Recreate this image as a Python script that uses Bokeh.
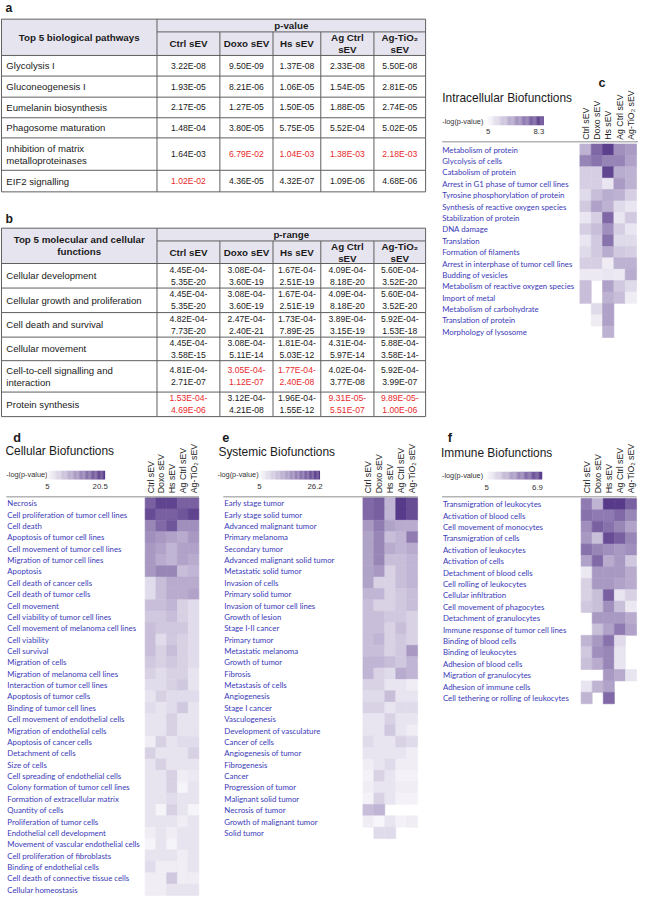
import numpy as np
from bokeh.plotting import figure
from bokeh.models import Range1d, ColumnDataSource, LinearColorMapper
from bokeh.layouts import column, row
from bokeh.embed import file_html
from bokeh.resources import INLINE
from bokeh.core.properties import value

# ======================= DATA =======================
NA = None

sample_headers = [["Ctrl sEV"], ["Doxo sEV"], ["Hs sEV"], ["Ag Ctrl", "sEV"], ["Ag-TiO\u2082", "sEV"]]
sample_names = ["Ctrl sEV", "Doxo sEV", "Hs sEV", "Ag Ctrl sEV", "Ag-TiO\u2082 sEV"]

# ---- table a ----
a_title = ["Top 5 biological pathways"]
a_group = "p-value"
a_pathways = [["Glycolysis I"], ["Gluconeogenesis I"], ["Eumelanin biosynthesis"],
              ["Phagosome maturation"], ["Inhibition of matrix", "metalloproteinases"],
              ["EIF2 signalling"]]
a_pvalues = [
    ["3.22E-08", "9.50E-09", "1.37E-08", "2.33E-08", "5.50E-08"],
    ["1.93E-05", "8.21E-06", "1.06E-05", "1.54E-05", "2.81E-05"],
    ["2.17E-05", "1.27E-05", "1.50E-05", "1.88E-05", "2.74E-05"],
    ["1.48E-04", "3.80E-05", "5.75E-05", "5.52E-04", "5.02E-05"],
    ["1.64E-03", "6.79E-02", "1.04E-03", "1.38E-03", "2.18E-03"],
    ["1.02E-02", "4.36E-05", "4.32E-07", "1.09E-06", "4.68E-06"],
]
a_red = [[0, 0, 0, 0, 0], [0, 0, 0, 0, 0], [0, 0, 0, 0, 0], [0, 0, 0, 0, 0],
         [0, 1, 1, 1, 1], [1, 0, 0, 0, 0]]

# ---- table b ----
b_title = ["Top 5 molecular and cellular", "functions"]
b_group = "p-range"
b_functions = [["Cellular development"], ["Cellular growth and proliferation"],
               ["Cell death and survival"], ["Cellular movement"],
               ["Cell-to-cell signalling and", "interaction"], ["Protein synthesis"]]
b_p_high = [
    ["4.45E-04", "3.08E-04", "1.67E-04", "4.09E-04", "5.60E-04"],
    ["4.45E-04", "3.08E-04", "1.67E-04", "4.09E-04", "5.60E-04"],
    ["4.82E-04", "2.47E-04", "1.73E-04", "3.89E-04", "5.92E-04"],
    ["4.45E-04", "3.08E-04", "1.81E-04", "4.31E-04", "5.88E-04"],
    ["4.81E-04", "3.05E-04", "1.77E-04", "4.02E-04", "5.92E-04"],
    ["1.53E-04", "3.12E-04", "1.96E-04", "9.31E-05", "9.89E-05"],
]
b_p_low = [
    ["5.35E-20", "3.60E-19", "2.51E-19", "8.18E-20", "3.52E-20"],
    ["5.35E-20", "3.60E-19", "2.51E-19", "8.18E-20", "3.52E-20"],
    ["7.73E-20", "2.40E-21", "7.89E-25", "3.15E-19", "1.53E-18"],
    ["3.58E-15", "5.11E-14", "5.03E-12", "5.97E-14", "3.58E-14-"],
    ["2.71E-07", "1.12E-07", "2.40E-08", "3.77E-08", "3.99E-07"],
    ["4.69E-06", "4.21E-08", "1.55E-12", "5.51E-07", "1.00E-06"],
]
b_red = [[0, 0, 0, 0, 0], [0, 0, 0, 0, 0], [0, 0, 0, 0, 0], [0, 0, 0, 0, 0],
         [0, 1, 1, 0, 0], [1, 0, 0, 1, 1]]

# ---- panel c: intracellular biofunctions, -log(p-value) ----
c_min, c_max = 5, 8.3
c_functions = ["Metabolism of protein", "Glycolysis of cells", "Catabolism of protein",
               "Arrest in G1 phase of tumor cell lines", "Tyrosine phosphorylation of protein",
               "Synthesis of reactive oxygen species", "Stabilization of protein", "DNA damage",
               "Translation", "Formation of filaments", "Arrest in interphase of tumor cell lines",
               "Budding of vesicles", "Metabolism of reactive oxygen species", "Import of metal",
               "Metabolism of carbohydrate", "Translation of protein", "Morphology of lysosome"]
c_values = [
    [6.2, 7.5, 8.2, 6.8, 6.6],
    [7.0, 7.3, 7.0, 7.0, 6.5],
    [5.7, 5.7, 8.1, 6.3, 6.2],
    [5.7, 5.7, 5.3, 6.6, 6.2],
    [5.5, 6.0, 6.3, 6.2, 5.7],
    [5.8, 6.5, 6.2, 5.5, 5.3],
    [5.3, 5.7, 7.5, 5.3, 5.8],
    [5.7, 6.0, 6.8, 5.7, 5.3],
    [5.3, 5.8, 7.3, 5.5, 5.5],
    [5.5, 5.8, 6.3, 5.8, 5.7],
    [5.7, 5.7, 5.2, 6.2, 6.2],
    [5.25, 5.25, 5.3, 5.25, 6.3],
    [6.0, NA, 6.5, 5.8, 5.5],
    [6.0, NA, 6.2, 6.0, 5.2],
    [NA, 5.5, 6.5, NA, NA],
    [NA, 5.2, 6.5, NA, NA],
    [NA, NA, 6.2, NA, NA],
]

# ---- panel d: cellular biofunctions ----
d_min, d_max = 5, 20.5
d_functions = ["Necrosis", "Cell proliferation of tumor cell lines", "Cell death",
               "Apoptosis of tumor cell lines", "Cell movement of tumor cell lines",
               "Migration of tumor cell lines", "Apoptosis", "Cell death of cancer cells",
               "Cell death of tumor cells", "Cell movement", "Cell viability of tumor cell lines",
               "Cell movement of melanoma cell lines", "Cell viability", "Cell survival",
               "Migration of cells", "Migration of melanoma cell lines",
               "Interaction of tumor cell lines", "Apoptosis of tumor cells",
               "Binding of tumor cell lines", "Cell movement of endothelial cells",
               "Migration of endothelial cells", "Apoptosis of cancer cells",
               "Detachment of cells", "Size of cells", "Cell spreading of endothelial cells",
               "Colony formation of tumor cell lines", "Formation of extracellular matrix",
               "Quantity of cells", "Proliferation of tumor cells",
               "Endothelial cell development", "Movement of vascular endothelial cells",
               "Cell proliferation of fibroblasts", "Binding of endothelial cells",
               "Cell death of connective tissue cells", "Cellular homeostasis"]
d_values = [
    [17.4, 19.7, 19.7, 17.4, 17.4],
    [19.0, 17.4, 17.4, 18.2, 19.7],
    [14.3, 16.6, 18.2, 13.5, 13.5],
    [13.5, 12.8, 12.0, 11.2, 12.8],
    [12.8, 12.0, 10.4, 12.0, 12.0],
    [12.8, 11.2, 10.4, 12.0, 11.2],
    [12.8, 14.3, 14.3, 9.7, 10.4],
    [7.3, 9.7, 11.2, 11.2, 11.2],
    [7.3, 9.7, 11.2, 11.2, 12.0],
    [9.7, 9.7, 10.4, 8.1, 7.3],
    [8.9, 8.9, 9.7, 8.1, 7.3],
    [9.7, 8.9, 8.9, 8.9, 7.3],
    [9.7, 7.3, 8.9, 8.1, 7.3],
    [9.7, 8.1, 9.7, 8.1, 7.3],
    [8.9, 8.1, 8.9, 8.1, 7.3],
    [8.1, 7.3, 8.1, 8.1, 6.6],
    [7.3, 7.3, 8.1, 8.9, 6.6],
    [6.6, 8.1, 7.3, 7.3, 7.3],
    [7.3, 6.6, 7.3, 8.9, 6.6],
    [6.6, 6.6, 8.1, 6.6, 6.6],
    [6.6, 6.6, 8.1, 6.6, 6.6],
    [5.8, 8.1, 6.6, 7.3, 7.3],
    [8.1, 6.6, 6.6, 6.6, 8.1],
    [6.6, 8.1, 6.6, 6.6, 6.6],
    [6.6, 6.6, 8.1, 5.8, 6.2],
    [6.6, 6.6, 8.1, 5.3, 6.6],
    [6.6, 6.6, 7.3, 6.6, 6.6],
    [6.6, 5.3, 8.1, 6.6, 5.3],
    [6.6, 6.6, 6.6, 5.8, 6.6],
    [5.8, 6.6, 5.8, 6.6, 6.6],
    [5.3, 6.6, 5.3, 6.6, 6.6],
    [6.6, 6.6, 6.6, 5.8, 6.6],
    [7.3, 5.8, 5.8, 5.8, 6.6],
    [5.8, 5.8, 8.9, 5.8, 5.8],
    [5.8, 5.8, 6.6, 6.6, 6.6],
]

# ---- panel e: systemic biofunctions ----
e_min, e_max = 5, 26.2
e_functions = ["Early stage tumor", "Early stage solid tumor", "Advanced malignant tumor",
               "Primary melanoma", "Secondary tumor", "Advanced malignant solid tumor",
               "Metastatic solid tumor", "Invasion of cells", "Primary solid tumor",
               "Invasion of tumor cell lines", "Growth of lesion", "Stage I-II cancer",
               "Primary tumor", "Metastatic melanoma", "Growth of tumor", "Fibrosis",
               "Metastasis of cells", "Angiogenesis", "Stage I cancer", "Vasculogenesis",
               "Development of vasculature", "Cancer of cells", "Angiogenesis of tumor",
               "Fibrogenesis", "Cancer", "Progression of tumor", "Malignant solid tumor",
               "Necrosis of tumor", "Growth of malignant tumor", "Solid tumor"]
e_values = [
    [20.9, 22.0, 12.4, 26.2, 24.1],
    [20.9, 22.0, 12.4, 26.2, 24.1],
    [15.6, 18.8, 14.5, 13.5, 13.5],
    [14.5, 17.7, 11.4, 12.4, 18.8],
    [14.5, 17.7, 13.5, 12.4, 13.5],
    [14.5, 17.7, 11.4, 11.4, 12.4],
    [14.5, 15.6, 9.2, 11.4, 12.4],
    [14.5, 9.2, 9.2, 11.4, 12.4],
    [12.4, 12.4, 9.2, 10.3, 11.4],
    [11.4, 9.2, 9.2, 10.3, 11.4],
    [11.4, 11.4, 10.3, 10.3, 9.2],
    [11.4, 11.4, 9.2, 11.4, 9.2],
    [11.4, 12.4, 9.2, 10.3, 9.2],
    [11.4, 11.4, 9.2, 10.3, 15.6],
    [12.4, 12.4, 11.4, 10.3, 12.4],
    [12.4, 9.2, 8.2, 13.5, 12.4],
    [9.2, 9.2, 7.1, 7.1, 6.1],
    [8.2, 8.2, 11.4, 7.1, 7.1],
    [9.2, 9.2, 7.1, 8.2, 8.2],
    [7.1, 7.1, 9.2, 7.1, 7.1],
    [7.1, 7.1, 10.3, 7.1, 6.1],
    [8.2, 7.1, 7.1, 9.2, 8.2],
    [7.1, 7.1, 7.1, 7.1, 6.1],
    [6.1, 7.1, 8.2, 6.1, 6.1],
    [5.6, 9.2, 7.1, 5.6, 5.6],
    [6.1, 7.1, 7.1, 6.1, 6.1],
    [5.6, 9.2, 7.1, 5.6, 5.6],
    [11.4, 12.4, NA, NA, NA],
    [6.1, 5.2, 7.1, 5.6, 6.1],
    [NA, 8.2, 8.2, NA, NA],
]

# ---- panel f: immune biofunctions ----
f_min, f_max = 5, 6.9
f_functions = ["Transmigration of leukocytes", "Activation of blood cells",
               "Cell movement of monocytes", "Transmigration of cells",
               "Activation of leukocytes", "Activation of cells", "Detachment of blood cells",
               "Cell rolling of leukocytes", "Cellular infiltration",
               "Cell movement of phagocytes", "Detachment of granulocytes",
               "Immune response of tumor cell lines", "Binding of blood cells",
               "Binding of leukocytes", "Adhesion of blood cells", "Migration of granulocytes",
               "Adhesion of immune cells", "Cell tethering or rolling of leukocytes"]
f_values = [
    [6.24, 5.67, 6.90, 6.90, 6.52],
    [6.33, 6.24, 6.24, 6.43, 6.14],
    [6.05, 6.52, 6.33, 6.14, 5.86],
    [5.95, 5.57, 6.71, 6.52, 6.14],
    [6.33, 6.14, 6.05, 5.95, 6.05],
    [5.86, 6.43, 5.76, 5.95, 5.48],
    [5.15, 5.95, 5.95, 5.95, 5.76],
    [5.38, 5.95, 5.95, 5.86, 5.76],
    [5.38, 5.57, 6.52, 5.19, 5.38],
    [5.48, 5.57, 6.05, 5.57, 5.15],
    [NA, 5.95, 5.95, 5.95, 5.76],
    [NA, 5.57, 5.86, 6.24, 5.86],
    [5.67, 5.95, 6.33, 5.29, NA],
    [5.48, 6.05, 6.14, 5.19, NA],
    [5.57, 5.76, 6.14, 5.19, NA],
    [NA, NA, 5.95, 5.76, 5.19],
    [5.19, 5.67, 5.86, NA, NA],
    [5.67, NA, 6.43, NA, NA],
]

# ======================= STYLE / LAYOUT =======================
FS = 0.978
SANS = value("Liberation Sans")
LABEL_FONT = value("Lato")
INK = "#1a1a1a"
RED = "#e8292b"
BLUE = "#3a3ab8"
HEAD_FILL = "#e6e4ef"
GRID_COL = "#5f5f5f"


def fs(px):
    return f"{px * FS:.2f}px"


def lerp_palette(c0, c1, n=256):
    a = np.array([int(c0[i:i + 2], 16) for i in (1, 3, 5)], float)
    b = np.array([int(c1[i:i + 2], 16) for i in (1, 3, 5)], float)
    out = []
    for t in np.linspace(0, 1, n):
        r, g, bb = (a + (b - a) * t).round().astype(int)
        out.append(f"#{r:02x}{g:02x}{bb:02x}")
    return out


PALETTE = lerp_palette("#f8f7fb", "#583a8a")


def base_fig(wpx, hpx, xr, yr):
    p = figure(width=wpx, height=hpx, x_range=xr, y_range=yr, output_backend="svg",
               toolbar_location=None, min_border=0, x_axis_location=None,
               y_axis_location=None, outline_line_color=None,
               background_fill_color="white", border_fill_color="white")
    p.grid.visible = False
    return p


def put_text(p, xs, ys, texts, size, color=INK, align="left", bold=False, font=SANS,
             angle=0, baseline="middle"):
    p.text(x=xs, y=ys, text=texts, text_font=font, text_font_size=fs(size),
           text_color=color, text_align=align, text_baseline=baseline,
           text_font_style="bold" if bold else "normal", angle=angle)


def stack(lines, cy, lh):
    n = len(lines)
    return [cy + (k - (n - 1) / 2) * lh for k in range(n)]


def draw_table(p, xe, ye, title_lines, group, headers, labels, cells, red):
    p.quad(left=[xe[0]], right=[xe[-1]], top=[ye[0]], bottom=[ye[2]],
           fill_color=HEAD_FILL, line_color=None)
    x0s, y0s, x1s, y1s = [], [], [], []
    for k, y in enumerate(ye):
        x0s.append(xe[1] if k == 1 else xe[0]); x1s.append(xe[-1])
        y0s.append(y); y1s.append(y)
    for k, x in enumerate(xe):
        x0s.append(x); x1s.append(x)
        y0s.append(ye[1] if 1 < k < len(xe) - 1 else ye[0]); y1s.append(ye[-1])
    p.segment(x0=x0s, y0=y0s, x1=x1s, y1=y1s, line_color=GRID_COL, line_width=1)

    tx, ty, tt = [], [], []
    for yy, s in zip(stack(title_lines, (ye[0] + ye[2]) / 2, 12.5), title_lines):
        tx.append((xe[0] + xe[1]) / 2); ty.append(yy); tt.append(s)
    tx.append((xe[1] + xe[-1]) / 2); ty.append((ye[0] + ye[1]) / 2); tt.append(group)
    for j, hl in enumerate(headers):
        for yy, s in zip(stack(hl, (ye[1] + ye[2]) / 2, 12.5), hl):
            tx.append((xe[j + 1] + xe[j + 2]) / 2); ty.append(yy); tt.append(s)
    put_text(p, tx, ty, tt, 10, align="center", bold=True)

    lx, ly, lt = [], [], []
    vx, vy, vt, vc = [], [], [], []
    for i, lab in enumerate(labels):
        cy = (ye[i + 2] + ye[i + 3]) / 2
        for yy, s in zip(stack(lab, cy, 12.4), lab):
            lx.append(xe[0] + 5); ly.append(yy); lt.append(s)
        for j in range(len(headers)):
            cl = cells[i][j]
            for yy, s in zip(stack(cl, cy, 12.4), cl):
                vx.append((xe[j + 1] + xe[j + 2]) / 2); vy.append(yy); vt.append(s)
                vc.append(RED if red[i][j] else INK)
    put_text(p, lx, ly, lt, 9.8)
    put_text(p, vx, vy, vt, 8.8, color=vc, align="center")


# ---- tables figure ----
TABLE_X = [1, 160.5, 225, 279.5, 328.5, 383, 436]
A_Y = [19, 32, 56, 77, 98.5, 119.5, 140, 173, 195]
B_Y = [232, 245, 268, 293, 318, 343, 367, 399, 424]

tab = base_fig(429, 422, Range1d(0, 440), Range1d(430, 0))
draw_table(tab, TABLE_X, A_Y, a_title, a_group, sample_headers, a_pathways,
           [[[v] for v in r] for r in a_pvalues], a_red)
draw_table(tab, TABLE_X, B_Y, b_title, b_group, sample_headers, b_functions,
           [[[hi + "-", lo] for hi, lo in zip(rh, rl)] for rh, rl in zip(b_p_high, b_p_low)],
           b_red)
put_text(tab, [5, 5], [7.5, 223], ["a", "b"], 12.5, bold=True, baseline="alphabetic")


# ---- heatmap panels ----
def heat_panel(L, title, letter, rows, vals, vmin, vmax):
    gx, gy, cw, ch = L["grid"]
    fx = lambda px: (px - gx) / cw
    fy = lambda py: (py - gy) / ch
    ox, oy, w, h = L["box"]
    p = base_fig(L["wpx"], L["hpx"], Range1d(fx(ox), fx(ox + w)), Range1d(fy(oy + h), fy(oy)))
    mapper = LinearColorMapper(palette=PALETTE, low=vmin, high=vmax)
    xs, ys, vs = [], [], []
    for i, rv in enumerate(vals):
        for j, v in enumerate(rv):
            if v is not None:
                xs.append(j + 0.5); ys.append(i + 0.5); vs.append(v)
    src = ColumnDataSource(dict(x=xs, y=ys, v=vs))
    p.rect(x="x", y="y", width=1, height=1, source=src,
           fill_color={"field": "v", "transform": mapper},
           line_color={"field": "v", "transform": mapper}, line_width=0.6)
    put_text(p, [fx(L["label_x"])] * len(rows), [i + 0.5 for i in range(len(rows))], rows,
             8, color=BLUE, font=LABEL_FONT)
    put_text(p, [j + 0.5 for j in range(len(sample_names))],
             [fy(L["colhead_y"])] * len(sample_names), sample_names, 9, angle=np.pi / 2)
    sx0, sx1, sy = L["sep"]
    p.segment(x0=[fx(sx0)], y0=[fy(sy)], x1=[fx(sx1)], y1=[fy(sy)],
              line_color="#b4b4b4", line_width=1.5)
    put_text(p, [fx(L["title"][0])], [fy(L["title"][1])], [title], 12.2)
    put_text(p, [fx(L["letter"][0])], [fy(L["letter"][1])], [letter], 13, bold=True,
             baseline="alphabetic")
    lx, ly = L["legend"]
    put_text(p, [fx(lx)], [fy(ly)], ["-log(p-value)"], 7.5, color="#333333")
    bx0, bx1, by0, by1 = L["bar"]
    n = 48
    step = (bx1 - bx0) / n
    gsrc = ColumnDataSource(dict(x=[fx(bx0 + (k + 0.5) * step) for k in range(n)],
                                 v=list(np.linspace(vmin, vmax, n))))
    p.rect(x="x", y=fy((by0 + by1) / 2), width=step / cw * 1.1, height=(by1 - by0) / ch,
           source=gsrc, fill_color={"field": "v", "transform": mapper}, line_color=None)
    put_text(p, [fx(bx0), fx(bx1 - 5)], [fy(L["tick_y"])] * 2, [f"{vmin:g}", f"{vmax:g}"],
             8, color="#333333", align="center")
    return p


C_LAYOUT = dict(box=(440, 0, 214, 430), wpx=209, hpx=422, grid=(594, 146.2, 11.6, 11.6),
                label_x=453, colhead_y=142, sep=(453, 654, 144), title=(453, 99),
                letter=(613, 84), legend=(453, 123), bar=(500, 557, 118, 127), tick_y=133.5)
D_LAYOUT = dict(box=(0, 430, 220, 482), wpx=215, hpx=474, grid=(148, 506.3, 11.0, 11.56),
                label_x=7, colhead_y=502, sep=(6, 203, 505.5), title=(5, 459),
                letter=(13, 445), legend=(6, 483), bar=(48, 107, 479, 488), tick_y=495.5)
E_LAYOUT = dict(box=(220, 430, 212, 482), wpx=207, hpx=474, grid=(371, 506.3, 11.2, 11.56),
                label_x=229, colhead_y=502, sep=(228, 427, 505.5), title=(223, 460),
                letter=(227, 445), legend=(222, 483), bar=(265, 327, 479, 488), tick_y=495.5)
F_LAYOUT = dict(box=(432, 430, 222, 482), wpx=216, hpx=474, grid=(595, 507.2, 11.4, 11.6),
                label_x=453, colhead_y=502, sep=(452, 652, 505.5), title=(451, 461),
                letter=(458, 445), legend=(452, 484), bar=(498, 555, 480, 488), tick_y=496.5)

cfig = heat_panel(C_LAYOUT, "Intracellular Biofunctions", "c", c_functions, c_values, c_min, c_max)
dfig = heat_panel(D_LAYOUT, "Cellular Biofunctions", "d", d_functions, d_values, d_min, d_max)
efig = heat_panel(E_LAYOUT, "Systemic Biofunctions", "e", e_functions, e_values, e_min, e_max)
ffig = heat_panel(F_LAYOUT, "Immune Biofunctions", "f", f_functions, f_values, f_min, f_max)

layout = column(row(tab, cfig), row(dfig, efig, ffig))
open("out.html", "w").write(file_html(layout, INLINE))
